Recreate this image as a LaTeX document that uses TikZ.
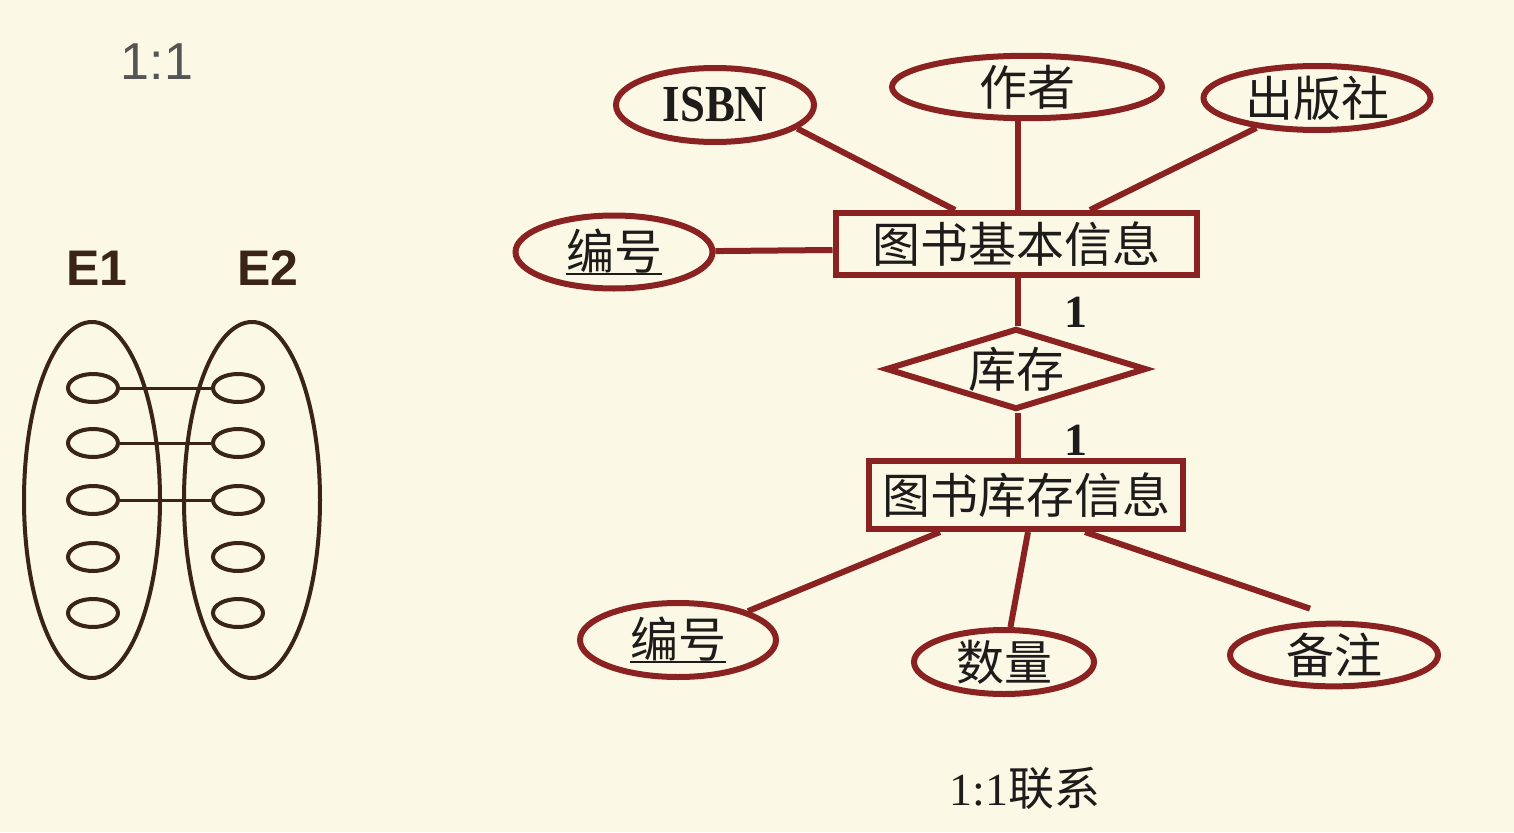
\documentclass[tikz,border=0pt]{standalone}
\usepackage{fontspec}
\usepackage{graphicx}
\setmainfont{Liberation Serif}
\newfontfamily\cjk{Noto Sans CJK SC}
\newfontfamily\lsans{Liberation Sans}
\usetikzlibrary{shapes.geometric}
\definecolor{bg}{RGB}{251,248,230}
\definecolor{maroon}{RGB}{139,34,34}
\definecolor{ink}{RGB}{30,28,26}
\definecolor{brownline}{RGB}{58,36,24}
\definecolor{grayt}{RGB}{85,85,85}
\newcommand\ulbox[1]{\setbox0\hbox{#1}\rlap{\rule[-6pt]{\wd0}{2pt}}\box0}
\begin{document}
\begin{tikzpicture}[x=1pt,y=-1pt,
  cjkfont/.style={font=\cjk\fontsize{48}{48}\selectfont},
  attr/.style={ellipse, draw=maroon, line width=6pt, inner sep=0pt, text=ink, cjkfont},
  ent/.style={rectangle, draw=maroon, line width=6pt, inner sep=0pt, text=ink, cjkfont},
  rel/.style={diamond, aspect=3, draw=maroon, line width=6pt, inner sep=0pt, text=ink, cjkfont},
  link/.style={draw=maroon, line width=6pt},
  bigset/.style={ellipse, draw=brownline, line width=4pt, inner sep=0pt, minimum width=136pt, minimum height=356pt},
  elem/.style={ellipse, draw=brownline, line width=4pt, inner sep=0pt, minimum width=50pt, minimum height=28pt},
  pairline/.style={draw=brownline, line width=3pt},
  card/.style={font=\bfseries\fontsize{46}{46}\selectfont, text=ink}
]
\fill[bg] (0,0) rectangle (1514,832);
\useasboundingbox (0,0) rectangle (1514,832);

% ---- left: 1:1 mapping sketch ----
\node[text=grayt, font=\lsans\fontsize{52}{52}\selectfont] (title) at (157,62) {1:1};
\node[text=brownline, font=\lsans\bfseries\fontsize{50}{50}\selectfont] (e1) at (97,268) {E1};
\node[text=brownline, font=\lsans\bfseries\fontsize{50}{50}\selectfont] (e2) at (268,268) {E2};
\node[bigset] (set1) at (92,500) {};
\node[bigset] (set2) at (252,500) {};
\foreach \i/\y in {1/388,2/443,3/500,4/557,5/613}{
  \node[elem] (l\i) at (93,\y) {};
  \node[elem] (r\i) at (238,\y) {};
}
\foreach \i in {1,2,3}{
  \draw[pairline] (l\i) -- (r\i);
}

% ---- right: ER diagram ----
\node[ent, minimum width=361pt, minimum height=62pt] (book) at (1016,244) {图书基本信息};
\node[rel, minimum width=261pt, minimum height=81pt] (stock) at (1016,369) {库存};
\node[ent, minimum width=314pt, minimum height=68pt] (inv) at (1026,495) {图书库存信息};

\node[attr, minimum width=198pt, minimum height=74pt, font=\bfseries\fontsize{52}{52}\selectfont] (isbn) at (715,105) {\scalebox{0.86}[1]{ISBN}};
\node[attr, minimum width=270pt, minimum height=59pt] (author) at (1027,87) {作者};
\node[attr, minimum width=227pt, minimum height=64pt] (pub) at (1317,98) {出版社};
\node[attr, minimum width=197pt, minimum height=73pt] (id1) at (614,252) {\ulbox{编号}};

\node[attr, minimum width=196pt, minimum height=74pt] (id2) at (678,640) {\ulbox{编号}};
\node[attr, minimum width=180pt, minimum height=64pt] (qty) at (1004,662) {数量};
\node[attr, minimum width=208pt, minimum height=61pt] (note) at (1334,655) {备注};

\draw[link] (isbn.-16) -- ([xshift=-61pt]book.north);
\draw[link] ([xshift=2pt]book.north) -- ([xshift=2pt]book.north |- author.south);
\draw[link] (pub) -- ([xshift=74pt]book.north);
\draw[link] (id1) -- ([yshift=-6pt]book.west);
\draw[link] ([xshift=2pt]book.south) -- ([xshift=2pt]stock.north);
\draw[link] ([xshift=2pt]stock.south) -- ([xshift=2pt]stock.south |- inv.north);
\draw[link] ([xshift=-86pt]inv.south) -- (id2);
\draw[link] ([xshift=2pt]inv.south) -- (qty);
\draw[link] ([xshift=59pt]inv.south) -- ([xshift=-24pt,yshift=12pt]note.north);

\node[card] (c1) at (1076,312) {1};
\node[card] (c2) at (1076,440) {1};

\node[text=ink, font=\fontsize{46}{46}\selectfont] (caption) at (1025,788) {1:1{\cjk 联系}};
\end{tikzpicture}
\end{document}
